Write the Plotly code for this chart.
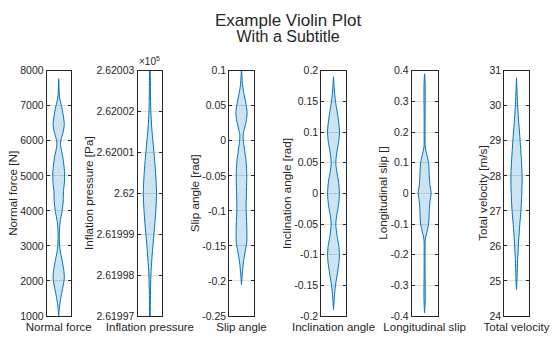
import plotly.graph_objects as go

# Variables shown, one violin per panel
categories = ["Normal force", "Inflation pressure", "Slip angle",
              "Inclination angle", "Longitudinal slip", "Total velocity"]
y_titles = ["Normal force [N]", "Inflation pressure [Pa]", "Slip angle [rad]",
            "Inclination angle [rad]", "Longitudinal slip []", "Total velocity [m/s]"]
title_text = "Example Violin Plot"
subtitle_text = "With a Subtitle"

# Kernel density outlines: sample values and relative density (1 = widest)
normal_force_y = [7770, 7220, 6930, 6650, 6460, 6270, 6070, 5930, 5790, 5500,
                  5120, 4840, 4550, 4260, 3980, 3690, 3400, 3120, 2830, 2550,
                  2260, 2070, 1790, 1500, 1210, 1000]
normal_force_d = [0.0, 0.15, 0.5, 0.75, 0.85, 0.7, 0.4, 0.27, 0.35, 0.65,
                  0.88, 0.88, 0.72, 0.68, 0.5, 0.22, 0.1, 0.1, 0.25, 0.55,
                  0.8, 0.85, 0.6, 0.3, 0.1, 0.0]

pressure_y = [262003.5, 262003.0, 262002.5, 262002.0, 262001.6, 262001.2,
              262000.8, 262000.4, 262000.0, 261999.6, 261999.2, 261998.8,
              261998.4, 261998.0, 261997.5, 261997.0, 261996.5]
pressure_d = [0.04, 0.05, 0.08, 0.14, 0.28, 0.5, 0.72, 0.9, 1.0, 0.9, 0.72,
              0.5, 0.3, 0.15, 0.08, 0.05, 0.04]

slip_angle_y = [0.105, 0.08, 0.0657, 0.0514, 0.0394, 0.0275, 0.0156, 0.0084,
                -0.001, -0.0154, -0.0297, -0.0488, -0.0726, -0.0965, -0.1203,
                -0.1442, -0.1585, -0.1728, -0.187, -0.205]
slip_angle_d = [0.0, 0.15, 0.4, 0.7, 0.85, 0.7, 0.4, 0.25, 0.3, 0.5, 0.7, 0.8,
                0.75, 0.7, 0.8, 0.8, 0.55, 0.3, 0.15, 0.0]

inclination_y = [0.19, 0.17, 0.15, 0.13, 0.11, 0.10, 0.085, 0.07, 0.05, 0.035,
                 0.02, 0.0, -0.02, -0.035, -0.05, -0.07, -0.085, -0.10, -0.11,
                 -0.13, -0.15, -0.17, -0.19]
inclination_d = [0.0, 0.12, 0.3, 0.6, 0.85, 0.9, 0.8, 0.55, 0.35, 0.5, 0.75,
                 0.9, 0.75, 0.5, 0.35, 0.55, 0.8, 0.9, 0.85, 0.6, 0.3, 0.12, 0.0]

long_slip_y = [0.39, 0.37, 0.33, 0.30, 0.25, 0.20, 0.15, 0.13, 0.10, 0.08,
               0.05, 0.02, 0.0, -0.02, -0.05, -0.08, -0.10, -0.13, -0.15,
               -0.20, -0.25, -0.30, -0.33, -0.37, -0.39]
long_slip_d = [0.0, 0.06, 0.1, 0.09, 0.07, 0.07, 0.1, 0.3, 0.6, 0.67, 0.72,
               0.85, 1.0, 0.85, 0.72, 0.67, 0.6, 0.3, 0.1, 0.07, 0.07, 0.09,
               0.1, 0.06, 0.0]

velocity_y = [30.8, 30.5, 30.0, 29.5, 29.0, 28.5, 28.0, 27.5, 27.0, 26.5,
              26.0, 25.5, 25.0, 24.75]
velocity_d = [0.0, 0.06, 0.17, 0.35, 0.55, 0.72, 0.85, 0.8, 0.67, 0.45,
              0.28, 0.15, 0.07, 0.0]

# Axis limits and tick labels
y_ranges = [[1000, 8000], [261997, 262003], [-0.25, 0.1], [-0.2, 0.2],
            [-0.4, 0.4], [24, 31]]
tick_vals = [
    [1000, 2000, 3000, 4000, 5000, 6000, 7000, 8000],
    [261997, 261998, 261999, 262000, 262001, 262002, 262003],
    [-0.25, -0.2, -0.15, -0.1, -0.05, 0, 0.05, 0.1],
    [-0.2, -0.15, -0.1, -0.05, 0, 0.05, 0.1, 0.15, 0.2],
    [-0.4, -0.3, -0.2, -0.1, 0, 0.1, 0.2, 0.3, 0.4],
    [24, 25, 26, 27, 28, 29, 30, 31],
]
tick_text = [
    ["1000", "2000", "3000", "4000", "5000", "6000", "7000", "8000"],
    ["2.61997", "2.61998", "2.61999", "2.62", "2.62001", "2.62002", "2.62003"],
    ["-0.25", "-0.2", "-0.15", "-0.1", "-0.05", "0", "0.05", "0.1"],
    ["-0.2", "-0.15", "-0.1", "-0.05", "0", "0.05", "0.1", "0.15", "0.2"],
    ["-0.4", "-0.3", "-0.2", "-0.1", "0", "0.1", "0.2", "0.3", "0.4"],
    ["24", "25", "26", "27", "28", "29", "30", "31"],
]

profiles = [(normal_force_y, normal_force_d), (pressure_y, pressure_d),
            (slip_angle_y, slip_angle_d), (inclination_y, inclination_d),
            (long_slip_y, long_slip_d), (velocity_y, velocity_d)]

# Layout in pixels
W, H = 560, 337
panel_x = [(46.7, 70.7), (137.5, 162.3), (229.3, 253.7), (321.3, 345.7),
           (411.7, 437.5), (504.3, 528.7)]
ylabel_x = [12.5, 88.7, 194.0, 286.7, 382.5, 482.5]
box_top, box_bottom = 70.7, 316.0
HALF_MAX = 6.6  # widest half-width of a violin, px

FONT = "Liberation Sans, Arial, sans-serif"
INK = "#262626"
BLUE = "#0072BD"

fig = go.Figure()
annotations = []

for i, ((ys, ds), cat) in enumerate(zip(profiles, categories)):
    n = i + 1
    xa = "x" if n == 1 else f"x{n}"
    ya = "y" if n == 1 else f"y{n}"
    x0, x1 = panel_x[i]
    scale = HALF_MAX / (x1 - x0)
    right = [d * scale for d in ds]
    left = [-d * scale for d in ds[::-1]]
    fig.add_trace(go.Scatter(
        x=right + left + [right[0]],
        y=list(ys) + list(ys[::-1]) + [ys[0]],
        mode="lines", fill="toself",
        line=dict(color=BLUE, width=1, shape="spline", smoothing=0.8),
        fillcolor="rgba(0,114,189,0.2)",
        hoverinfo="skip", showlegend=False,
        xaxis=xa, yaxis=ya,
    ))

    xkey = "xaxis" if n == 1 else f"xaxis{n}"
    ykey = "yaxis" if n == 1 else f"yaxis{n}"
    fig.update_layout({
        xkey: dict(
            domain=[x0 / W, x1 / W], range=[-0.5, 0.5], anchor=ya,
            automargin=False,
            showline=True, mirror=True, linecolor=INK, linewidth=1,
            showgrid=False, zeroline=False, ticks="",
            tickvals=[0], ticktext=[cat],
            tickfont=dict(family=FONT, size=11.5, color=INK),
            fixedrange=True,
        ),
        ykey: dict(
            domain=[(H - box_bottom) / H, (H - box_top) / H],
            range=y_ranges[i], anchor=xa, automargin=False,
            showline=True, mirror="ticks", linecolor=INK, linewidth=1,
            ticks="inside", ticklen=3, tickcolor=INK, tickwidth=1,
            showgrid=True, gridcolor="#DEDEDE", gridwidth=1, zeroline=False,
            tickvals=tick_vals[i], ticktext=tick_text[i],
            tickfont=dict(family=FONT, size=10.5, color=INK),
            fixedrange=True,
        ),
    })

    annotations.append(dict(
        text=y_titles[i], textangle=-90, xref="paper", yref="paper",
        x=ylabel_x[i] / W, y=1 - (box_top + box_bottom) / 2 / H,
        xanchor="center", yanchor="middle", showarrow=False,
        font=dict(family=FONT, size=11.7, color=INK),
    ))

# Exponent marker for the pressure axis
annotations.append(dict(
    text="×10<sup>5</sup>", xref="paper", yref="paper",
    x=137.0 / W, y=1 - 69.5 / H, xanchor="left", yanchor="bottom",
    showarrow=False, font=dict(family=FONT, size=10, color=INK),
))

# Title and subtitle as one two-line block (base size sets the line pitch)
annotations.append(dict(
    text=(f"<span style='font-size:17px'>{title_text}</span><br>"
          f"<span style='font-size:16px'>{subtitle_text}</span>"),
    xref="paper", yref="paper",
    x=288 / W, y=1 - 28.5 / H, xanchor="center", yanchor="middle",
    showarrow=False, borderpad=0,
    font=dict(family=FONT, size=12, color=INK),
))

fig.update_layout(
    width=W, height=H, autosize=False,
    margin=dict(l=0, r=0, t=0, b=0),
    paper_bgcolor="white", plot_bgcolor="white",
    annotations=annotations,
    font=dict(family=FONT, color=INK),
)

fig.write_html("out.html", config={"displayModeBar": False})
